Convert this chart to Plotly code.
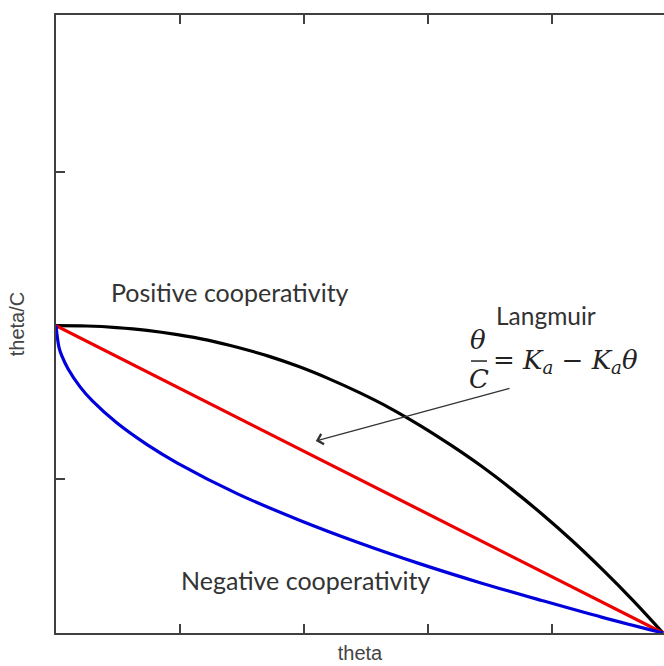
import plotly.graph_objects as go

# ---- data ----
theta_langmuir = [0.0, 1.0]
ratio_langmuir = [1.0, 0.0]

theta_pos = [0, 0.05, 0.1, 0.15, 0.2, 0.25, 0.3, 0.35, 0.4, 0.45, 0.5, 0.55,
             0.6, 0.65, 0.7, 0.75, 0.8, 0.85, 0.9, 0.95, 1.0]
ratio_pos = [1.0, 0.999, 0.994, 0.985, 0.971, 0.953, 0.929, 0.901, 0.867, 0.827,
             0.782, 0.732, 0.675, 0.612, 0.544, 0.469, 0.388, 0.301, 0.207, 0.107, 0.0]

theta_neg = [0, 0.005, 0.01, 0.02, 0.04, 0.06, 0.1, 0.15, 0.2, 0.3, 0.4, 0.5,
             0.6, 0.7, 0.8, 0.9, 1.0]
ratio_neg = [1.0, 0.929, 0.9, 0.859, 0.8, 0.755, 0.684, 0.613, 0.553, 0.452, 0.368,
             0.293, 0.225, 0.163, 0.106, 0.051, 0.0]

x_ticks = [0.2043, 0.4086, 0.6129, 0.8171]
y_ticks = [0.5, 1.5]

label_font = "Lato"
text_col = "#333333"

fig = go.Figure()
fig.add_trace(go.Scatter(x=theta_pos, y=ratio_pos, mode="lines",
                         line=dict(color="black", width=3.2), line_shape="spline",
                         showlegend=False))
fig.add_trace(go.Scatter(x=theta_langmuir, y=ratio_langmuir, mode="lines",
                         line=dict(color="#ee0000", width=3.2), showlegend=False))
fig.add_trace(go.Scatter(x=theta_neg, y=ratio_neg, mode="lines",
                         line=dict(color="#0000dd", width=3.2), line_shape="spline",
                         showlegend=False))

ann = []
ann.append(dict(x=0.2867, y=1.11, text="Positive cooperativity", showarrow=False,
                font=dict(family=label_font, size=25, color=text_col)))
ann.append(dict(x=0.411, y=0.1725, text="Negative cooperativity", showarrow=False,
                font=dict(family=label_font, size=25, color=text_col)))
ann.append(dict(x=0.807, y=1.032, text="Langmuir", showarrow=False,
                font=dict(family=label_font, size=24.5, color=text_col)))
eq_font = dict(family="DejaVu Serif", size=26, color="#222222")
ann.append(dict(x=0.696, y=0.955, text="<i>θ</i>", showarrow=False, font=eq_font))
ann.append(dict(x=0.697, y=0.826, text="<i>C</i>", showarrow=False, font=eq_font))
ann.append(dict(x=0.716, y=0.885, xanchor="left",
                text="= <i>K<sub>a</sub></i> − <i>K<sub>a</sub>θ</i>",
                showarrow=False, font=eq_font))
ann.append(dict(x=0.428, y=0.625, ax=0.7496, ay=0.797, xref="x", yref="y",
                axref="x", ayref="y", text="", showarrow=True, arrowhead=4,
                arrowsize=1.6, arrowwidth=1.3, arrowcolor="#333333"))
for a in ann:
    a.setdefault("xref", "x")
    a.setdefault("yref", "y")

fig.update_layout(
    width=664, height=666,
    margin=dict(l=56, r=0, t=15, b=33),
    paper_bgcolor="white", plot_bgcolor="white",
    annotations=ann,
    shapes=[dict(type="line", xref="x", yref="y", x0=0.6837, x1=0.710, y0=0.885, y1=0.885,
                 line=dict(color="#222222", width=1.5))],
    xaxis=dict(range=[0, 1.0016], showgrid=False, zeroline=False, showline=True,
               linecolor="#404040", linewidth=2, mirror="ticks", ticks="inside",
               ticklen=9, tickwidth=2, tickcolor="#404040", tickvals=x_ticks,
               showticklabels=False,
               title=dict(text="theta", standoff=12,
                          font=dict(family="Liberation Sans", size=20, color="#444444"))),
    yaxis=dict(range=[0, 2.011], showgrid=False, zeroline=False, showline=True,
               linecolor="#404040", linewidth=2, ticks="inside",
               ticklen=9, tickwidth=2, tickcolor="#404040", tickvals=y_ticks,
               showticklabels=False,
               title=dict(text="theta/C", standoff=24,
                          font=dict(family="Liberation Sans", size=20, color="#444444"))),
)

fig.write_html("out.html", config={"displayModeBar": False},
               post_script="document.body.style.margin='0';document.body.style.overflow='hidden';")
